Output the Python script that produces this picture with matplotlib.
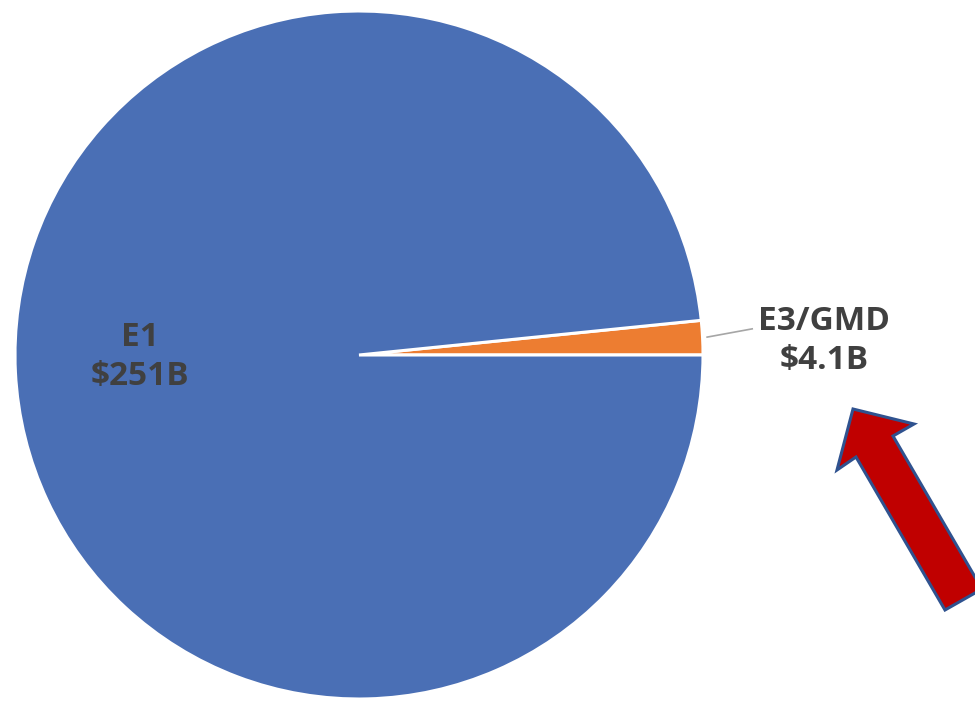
import matplotlib
matplotlib.use("Agg")
import matplotlib.pyplot as plt
from matplotlib.patches import Polygon

categories = ["E3/GMD", "E1"]
values = [4.1, 251]
value_labels = ["$4.1B", "$251B"]
colors = ["#ED7D31", "#4A6FB5"]

W, H = 975, 701
fig = plt.figure(figsize=(W / 100, H / 100), dpi=100)
cx, cy, r = 359, 355, 344
ax = fig.add_axes([(cx - r) / W, (H - cy - r) / H, 2 * r / W, 2 * r / H])
ax.pie(values, colors=colors, startangle=0, counterclock=True, radius=1,
       wedgeprops=dict(edgecolor="white", linewidth=2.2))
ax.set_xlim(-1, 1)
ax.set_ylim(-1, 1)
ax.set_aspect("auto")
ax.axis("off")

txt = dict(fontsize=24, fontweight="bold", color="#404040", family="Open Sans",
           ha="center", va="center", linespacing=1.25)
ax.text(-0.638, -0.006, f"{categories[1]}\n{value_labels[1]}", **txt)
ax.text(1.353, 0.041, f"{categories[0]}\n{value_labels[0]}", **txt)
ax.plot([1.012, 1.143], [0.052, 0.076], color="#A6A6A6", lw=1.2, clip_on=False)

pts_px = [(853, 409), (914, 424), (893, 436), (982, 589), (945, 610), (856, 457), (837, 470)]
pts = [(x / W, 1 - y / H) for x, y in pts_px]
fig.patches.append(Polygon(pts, closed=True, transform=fig.transFigure,
                           facecolor="#C00000", edgecolor="#2F528F", linewidth=2.2))

fig.savefig("out.png", dpi=100)
